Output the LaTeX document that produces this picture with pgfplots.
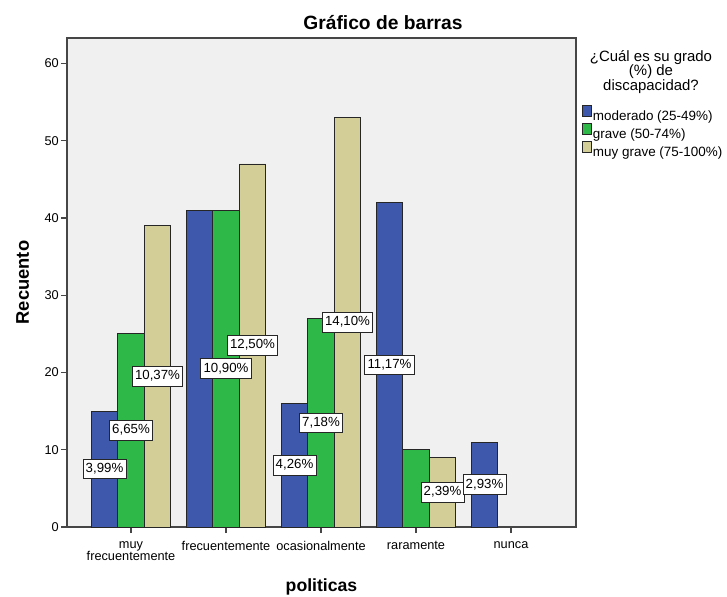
\documentclass[border=0pt]{standalone}
\usepackage{fontspec}
\setmainfont{Liberation Sans}
\usepackage{pgfplots}
\pgfplotsset{compat=1.18}
\definecolor{cBlue}{RGB}{62,88,172}
\definecolor{cGreen}{RGB}{46,184,72}
\definecolor{cTan}{RGB}{211,206,151}
\definecolor{cBg}{RGB}{240,240,240}
\definecolor{cFrame}{RGB}{70,70,70}
\pgfplotsset{
  sqleg/.style={legend image code/.code={\draw[##1] (0bp,-0.5bp) rectangle (9bp,10.8bp);}},
}
\begin{document}
\begin{tikzpicture}
\useasboundingbox (-67bp,-70bp) rectangle (660bp,527bp);
\begin{axis}[
  at={(0,0)}, anchor=south west,
  width=509bp, height=489bp, scale only axis,
  xmin=-0.674, xmax=4.684, ymin=0, ymax=63.3,
  axis background/.style={fill=cBg},
  axis line style={cFrame, line width=1.2bp},
  xtick={0,1,2,3,4},
  xticklabels={{muy\\frecuentemente},frecuentemente,ocasionalmente,raramente,nunca},
  xticklabel style={align=center, font=\fontsize{12.8}{12.8}\selectfont, inner sep=2bp, yshift=-6bp},
  ytick={0,10,20,30,40,50,60},
  yticklabel style={font=\fontsize{12.8}{14}\selectfont, inner sep=2bp},
  /pgf/number format/assume math mode=true,
  tick align=outside, major tick length=6bp,
  xtick pos=bottom, ytick pos=left,
  tick style={cFrame, line width=1.2bp},
  xlabel={politicas},
  xlabel style={font=\bfseries\fontsize{17.7}{20}\selectfont, at={(axis description cs:0.5,-0.122)}, anchor=center},
  ylabel={Recuento},
  ylabel style={font=\bfseries\fontsize{18.4}{20}\selectfont, at={(axis description cs:-0.087,0.5)}, anchor=center},
  legend style={at={(axis description cs:1.0113,0.864)}, anchor=north west, draw=none, fill=none,
    inner sep=0pt, font=\fontsize{13.5}{15}\selectfont, nodes={inner sep=1.2bp}, row sep=0bp},
  legend cell align=left,
]
\addplot[ybar, bar width=0.279, bar shift=-0.279, fill=cBlue, draw=black!85, line width=0.8bp, sqleg]
  coordinates {(0,15) (1,41) (2,16) (3,42) (4,11)};
\addlegendentry{moderado (25-49\%)}
\addplot[ybar, bar width=0.279, bar shift=0, fill=cGreen, draw=black!85, line width=0.8bp, sqleg]
  coordinates {(0,25) (1,41) (2,27) (3,10)};
\addlegendentry{grave (50-74\%)}
\addplot[ybar, bar width=0.279, bar shift=0.279, fill=cTan, draw=black!85, line width=0.8bp, sqleg]
  coordinates {(0,39) (1,47) (2,53) (3,9)};
\addlegendentry{muy grave (75-100\%)}
\addplot[only marks, mark=*, mark size=0pt, mark options={draw=none, fill=none}, forget plot,
  nodes near coords, point meta=explicit symbolic,
  every node near coord/.append style={anchor=center, fill=white, draw=black!85, line width=0.8bp,
    inner xsep=2.8bp, inner ysep=3.5bp, text height=9.8bp, text depth=2.8bp,
    font=\fontsize{13.3}{15}\selectfont}]
  coordinates {
    (-0.279,7.5) [{3,99\%}]
    (0,12.5) [{6,65\%}]
    (0.279,19.5) [{10,37\%}]
    (1,20.5) [{10,90\%}]
    (1.279,23.5) [{12,50\%}]
    (1.721,8) [{4,26\%}]
    (2,13.5) [{7,18\%}]
    (2.279,26.5) [{14,10\%}]
    (2.721,21) [{11,17\%}]
    (3.279,4.5) [{2,39\%}]
    (3.721,5.5) [{2,93\%}]
  };
\end{axis}
\node[font=\bfseries\fontsize{19.3}{21}\selectfont] at (316bp,504bp) {Gráfico de barras};
\node[align=center, font=\fontsize{15}{15}\selectfont] at (584bp,455bp) {¿Cuál es su grado\\(\%) de\\discapacidad?};
\end{tikzpicture}
\end{document}
